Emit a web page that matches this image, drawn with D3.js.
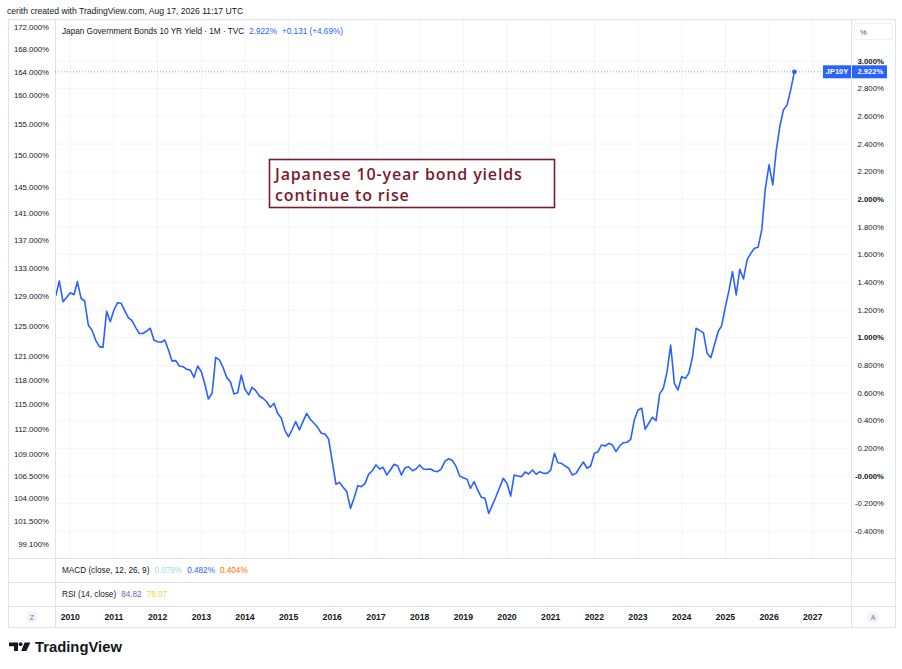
<!DOCTYPE html>
<html>
<head>
<meta charset="utf-8">
<script src="https://cdn.jsdelivr.net/npm/d3@7"></script>
<style>
  body { margin: 0; background: #fff; }
  svg { display: block; font-family: "Liberation Sans", Arial, sans-serif; }
</style>
</head>
<body>
<div id="chart"></div>
<script>
const width = 902;
const height = 669;

// monthly closes, JP10Y, starting Sep 2009 (values in %)
const startMonth = new Date(2009, 8, 1);
const yields = [
  1.30, 1.41, 1.26, 1.29, 1.325, 1.31, 1.405, 1.285, 1.265, 1.09, 1.055, 0.983,
  0.935, 0.93, 1.19, 1.115, 1.20, 1.253, 1.249, 1.195, 1.145, 1.123, 1.075, 1.03,
  1.03, 1.048, 1.068, 0.983, 0.971, 0.967, 0.983, 0.911, 0.832, 0.834, 0.795, 0.79,
  0.771, 0.766, 0.713, 0.795, 0.754, 0.658, 0.557, 0.598, 0.858, 0.839, 0.786, 0.713,
  0.682, 0.593, 0.602, 0.73, 0.627, 0.586, 0.641, 0.617, 0.578, 0.562, 0.537, 0.497,
  0.526, 0.453, 0.417, 0.328, 0.284, 0.338, 0.393, 0.333, 0.393, 0.453, 0.41, 0.381,
  0.352, 0.309, 0.304, 0.268, 0.104, -0.06, -0.046, -0.082, -0.113, -0.234, -0.161, -0.07,
  -0.077, -0.053, 0.014, 0.038, 0.08, 0.051, 0.063, 0.007, 0.043, 0.085, 0.074, 0.007,
  0.06, 0.067, 0.038, 0.051, 0.08, 0.051, 0.048, 0.051, 0.036, 0.031, 0.051, 0.108,
  0.125, 0.112, 0.07, 0.0, -0.012, -0.024, -0.089, -0.041, -0.101, -0.154, -0.161, -0.27,
  -0.21, -0.15, -0.082, -0.017, -0.053, -0.145, 0.007, 0.0, -0.005, 0.029, 0.014, 0.043,
  0.012, 0.031, 0.019, 0.019, 0.043, 0.164, 0.096, 0.092, 0.072, 0.056, 0.007, 0.019,
  0.063, 0.101, 0.056, 0.072, 0.164, 0.176, 0.224, 0.217, 0.236, 0.224, 0.176, 0.217,
  0.241, 0.244, 0.265, 0.405, 0.477, 0.49, 0.338, 0.381, 0.424, 0.40, 0.594, 0.634,
  0.754, 0.947, 0.67, 0.622, 0.718, 0.706, 0.743, 0.863, 1.068, 1.051, 1.036, 0.887,
  0.855, 0.947, 1.043, 1.087, 1.224, 1.345, 1.477, 1.309, 1.494, 1.424, 1.562, 1.61,
  1.646, 1.653, 1.779, 2.08, 2.249, 2.104, 2.345, 2.526, 2.646, 2.683, 2.791, 2.922
];

const rightTicks = [3.0, 2.8, 2.6, 2.4, 2.2, 2.0, 1.8, 1.6, 1.4, 1.2, 1.0, 0.8, 0.6, 0.4, 0.2, 0.0, -0.2, -0.4];
const leftTicks = [172, 168, 164, 160, 155, 150, 145, 141, 137, 133, 129, 125, 121, 118, 115, 112, 109, 106.5, 104, 101.5, 99.1];
const yearLabels = ["2010", "2011", "2012", "2013", "2014", "2015", "2016", "2017", "2018",
  "2019", "2020", "2021", "2022", "2023", "2024", "2025", "2026", "2027"];

const lastValue = 2.922;

// pane geometry
const frameL = 8, frameR = 895, frameT = 19;
const axisL = 55, axisR = 851;
const mainB = 558, macdB = 582, rsiB = 606, timeB = 627;

const ink = "#131722";
const lineColor = "#2962ff";
const border = "#e0e3eb";
const grid = "#f2f4f9";

const data = yields.map((v, i) => ({ date: d3.timeMonth.offset(startMonth, i), value: v }));

const x = d3.scaleTime()
  .domain([new Date(2010, 0, 1), new Date(2027, 0, 1)])
  .range([70.3, 812.7]);
const y = d3.scaleLinear().domain([0, 3]).range([476, 61]);
const yLeft = d3.scaleLog().domain([99.1, 164]).range([544, 72]);

const svg = d3.select("#chart").append("svg")
  .attr("width", width)
  .attr("height", height);

svg.append("rect").attr("width", width).attr("height", height).attr("fill", "#fff");

// credit line
svg.append("text")
  .attr("x", 7).attr("y", 14)
  .style("font-size", "8.6px").attr("fill", ink)
  .text("cerith created with TradingView.com, Aug 17, 2026 11:17 UTC");

// grid
const gridG = svg.append("g");
gridG.selectAll(".vg").data(yearLabels).enter().append("line")
  .attr("x1", d => x(new Date(+d, 0, 1))).attr("x2", d => x(new Date(+d, 0, 1)))
  .attr("y1", frameT).attr("y2", mainB)
  .attr("stroke", grid);
gridG.selectAll(".hg").data(rightTicks).enter().append("line")
  .attr("x1", axisL).attr("x2", axisR)
  .attr("y1", d => y(d)).attr("y2", d => y(d))
  .attr("stroke", grid);

// frame and pane separators
const frame = svg.append("g").attr("stroke", border).attr("fill", "none");
frame.append("rect")
  .attr("x", frameL + 0.5).attr("y", frameT + 0.5)
  .attr("width", frameR - frameL).attr("height", timeB - frameT);
[axisL, axisR].forEach(px => frame.append("line")
  .attr("x1", px + 0.5).attr("x2", px + 0.5).attr("y1", frameT).attr("y2", timeB));
[mainB, macdB, rsiB].forEach(py => frame.append("line")
  .attr("x1", frameL).attr("x2", frameR).attr("y1", py + 0.5).attr("y2", py + 0.5));

// left axis (percent-change scale)
svg.append("g").selectAll("text").data(leftTicks).enter().append("text")
  .attr("x", 49).attr("y", d => yLeft(d))
  .attr("text-anchor", "end").attr("dominant-baseline", "central")
  .style("font-size", "7.8px").attr("fill", ink)
  .text(d => d.toFixed(3) + "%");

// right axis
svg.append("rect")
  .attr("x", 854.5).attr("y", 23.5).attr("width", 38).attr("height", 16).attr("rx", 2)
  .attr("fill", "#fff").attr("stroke", "#eef0f4");
svg.append("text")
  .attr("x", 860).attr("y", 32).attr("dominant-baseline", "central")
  .style("font-size", "7.6px").attr("fill", "#50535e").text("%");

svg.append("g").selectAll("text").data(rightTicks).enter().append("text")
  .attr("x", d => d <= 0 ? 855 : 857.5)
  .attr("y", d => y(d))
  .attr("dominant-baseline", "central")
  .style("font-size", "7.8px")
  .style("font-weight", d => Number.isInteger(d) ? "bold" : "normal")
  .attr("fill", ink)
  .text(d => (d <= 0 ? "-" : "") + Math.abs(d).toFixed(3) + "%");

// last value dotted line
svg.append("line")
  .attr("x1", axisL).attr("x2", 823)
  .attr("y1", y(lastValue)).attr("y2", y(lastValue))
  .attr("stroke", lineColor).attr("stroke-opacity", 0.55)
  .attr("stroke-dasharray", "1,2");

// series line
const clip = svg.append("clipPath").attr("id", "mainclip");
clip.append("rect").attr("x", axisL + 1).attr("y", frameT + 1)
  .attr("width", axisR - axisL - 1).attr("height", mainB - frameT - 1);

const line = d3.line().x(d => x(d.date)).y(d => y(d.value));
svg.append("path")
  .datum(data)
  .attr("clip-path", "url(#mainclip)")
  .attr("fill", "none")
  .attr("stroke", lineColor)
  .attr("stroke-width", 1.6)
  .attr("stroke-linejoin", "round")
  .attr("d", line);

const last = data[data.length - 1];
svg.append("circle")
  .attr("cx", x(last.date)).attr("cy", y(last.value)).attr("r", 2.4)
  .attr("fill", lineColor);

// last value label on the price scale
const ly = y(lastValue);
svg.append("rect").attr("x", 823).attr("y", ly - 6.5).attr("width", 28).attr("height", 13)
  .attr("fill", lineColor);
svg.append("rect").attr("x", 852).attr("y", ly - 6.5).attr("width", 35).attr("height", 13)
  .attr("fill", lineColor);
svg.append("text").attr("x", 837).attr("y", ly).attr("text-anchor", "middle")
  .attr("dominant-baseline", "central").style("font-size", "7.6px").style("font-weight", "bold")
  .attr("fill", "#fff").text("JP10Y");
svg.append("text").attr("x", 857.5).attr("y", ly)
  .attr("dominant-baseline", "central").style("font-size", "7.6px").style("font-weight", "bold")
  .attr("fill", "#fff").text(lastValue.toFixed(3) + "%");

// legend
const legend = svg.append("text").attr("x", 62).attr("y", 31)
  .attr("dominant-baseline", "central").style("font-size", "8.2px");
legend.append("tspan").attr("fill", ink).text("Japan Government Bonds 10 YR Yield · 1M · TVC");
legend.append("tspan").attr("fill", lineColor).attr("dx", 5).text("2.922%");
legend.append("tspan").attr("fill", lineColor).attr("dx", 5).text("+0.131 (+4.69%)");

const macd = svg.append("text").attr("x", 62).attr("y", 570)
  .attr("dominant-baseline", "central").style("font-size", "8.2px");
macd.append("tspan").attr("fill", ink).text("MACD (close, 12, 26, 9)");
macd.append("tspan").attr("fill", "#a3d6e6").attr("dx", 5).text("0.078%");
macd.append("tspan").attr("fill", lineColor).attr("dx", 5).text("0.482%");
macd.append("tspan").attr("fill", "#ff6d00").attr("dx", 5).text("0.404%");

const rsi = svg.append("text").attr("x", 62).attr("y", 594)
  .attr("dominant-baseline", "central").style("font-size", "8.2px");
rsi.append("tspan").attr("fill", ink).text("RSI (14, close)");
rsi.append("tspan").attr("fill", "#7e57c2").attr("dx", 5).text("84.82");
rsi.append("tspan").attr("fill", "#f5d03a").attr("dx", 5).text("78.07");

// time axis
svg.append("g").selectAll("text").data(yearLabels).enter().append("text")
  .attr("x", d => x(new Date(+d, 0, 1))).attr("y", 617)
  .attr("text-anchor", "middle").attr("dominant-baseline", "central")
  .style("font-size", "8.7px").style("font-weight", "bold").attr("fill", ink)
  .text(d => d);

[["Z", 32], ["A", 873]].forEach(([t, cx]) => {
  svg.append("circle").attr("cx", cx).attr("cy", 617).attr("r", 6).attr("fill", "#f0f3fa");
  svg.append("text").attr("x", cx).attr("y", 617).attr("text-anchor", "middle")
    .attr("dominant-baseline", "central").style("font-size", "7px").attr("fill", "#787b86").text(t);
});

// annotation
const note = svg.append("g");
note.append("rect")
  .attr("x", 269.5).attr("y", 159.5).attr("width", 285).attr("height", 48)
  .attr("fill", "#fff").attr("stroke", "#7b1b2e").attr("stroke-width", 1.6);
const noteText = note.append("text")
  .style("font-family", "'Open Sans', 'Liberation Sans', sans-serif")
  .style("font-size", "16px").style("font-weight", "600")
  .style("letter-spacing", "0.85px").attr("fill", "#7b1b2e");
noteText.append("tspan").attr("x", 275).attr("y", 180).text("Japanese 10-year bond yields");
noteText.append("tspan").attr("x", 275).attr("y", 200.5).text("continue to rise");

// TradingView logo
const logo = svg.append("g").attr("fill", ink);
logo.append("path").attr("d", "M9,642.5 H18 V651 H14 V646.3 H9 Z");
logo.append("circle").attr("cx", 20.6).attr("cy", 644.2).attr("r", 1.9);
logo.append("path").attr("d", "M24.6,642.5 H30.4 L26.3,651 H21.2 Z");
svg.append("text").attr("x", 35).attr("y", 652)
  .style("font-size", "14.8px").style("font-weight", "bold").attr("fill", ink)
  .text("TradingView");
</script>
</body>
</html>
